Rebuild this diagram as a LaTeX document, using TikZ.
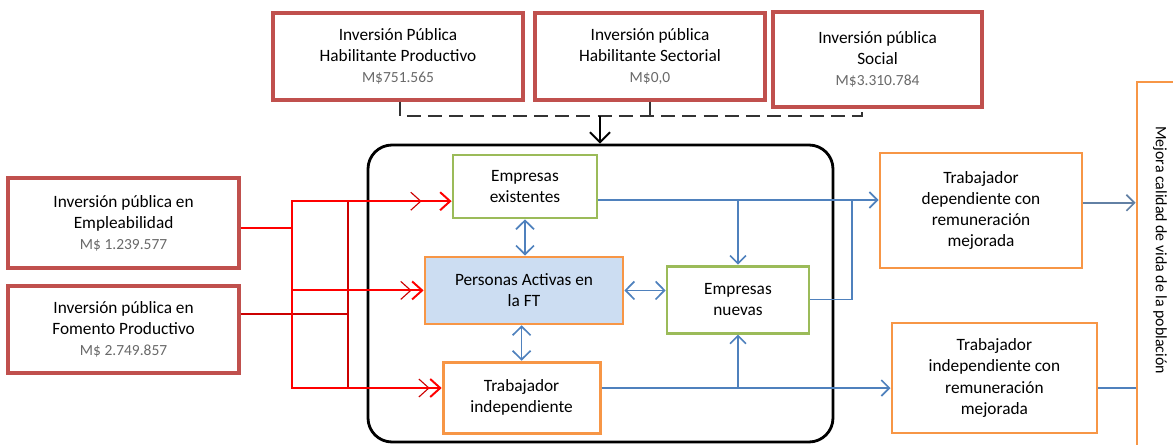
\documentclass[tikz,border=0pt]{standalone}
\usepackage{fontspec}
\setmainfont{Carlito}
\usetikzlibrary{arrows.meta}
\definecolor{boxred}{RGB}{192,80,77}
\definecolor{boxgreen}{RGB}{155,187,89}
\definecolor{boxorange}{RGB}{247,150,70}
\definecolor{lineblue}{RGB}{79,129,189}
\definecolor{fillblue}{RGB}{204,221,242}
\definecolor{amountgray}{RGB}{105,105,105}
\tikzset{
	box/.style={draw, line width=2pt, align=center, font=\fontsize{12.3}{15}\selectfont, inner sep=2pt},
	redbox/.style={box, draw=boxred, line width=2.4pt},
	greenbox/.style={box, draw=boxgreen},
	orangebox/.style={box, draw=boxorange},
	frame/.style={draw, line width=2pt, rounded corners=0.6cm},
	redthick/.style={draw=red, line width=1.4pt, -{Straight Barb[length=2.5mm,width=4.5mm]}},
	redthin/.style={draw=red!80!black, line width=0.8pt, -{Straight Barb[length=2.5mm,width=4.5mm]}},
	blueline/.style={draw=lineblue, line width=1.2pt},
	bluearrow/.style={blueline, -{Straight Barb[length=2mm,width=4mm]}},
	bluetwo/.style={blueline, {Straight Barb[length=2.2mm,width=4.5mm]}-{Straight Barb[length=2.2mm,width=4.5mm]}},
	dashline/.style={draw=black!80, line width=1.2pt, dash pattern=on 3.5mm off 1.8mm},
}
\newcommand{\amount}[1]{{\color{amountgray}\fontsize{11}{15}\selectfont #1}}

\begin{document}
\begin{tikzpicture}
		%%%%% START %%%%%
		\useasboundingbox (0,0) rectangle (29.325,-11.1);
		
		\node[frame, minimum width=11.625cm, minimum height=7.425cm] (frame) at (15.0125,-7.3375) {};
		
		% inversion boxes
		\node[redbox, minimum width=6.25cm, minimum height=2.175cm] (invHP) at (9.95,-1.41) {Inversión Pública\\Habilitante Productivo\\\amount{M\$751.565}};
		\node[redbox, minimum width=5.75cm, minimum height=2.175cm] (invHS) at (16.25,-1.41) {Inversión pública\\Habilitante Sectorial\\\amount{M\$0,0}};
		\node[redbox, minimum width=5.225cm, minimum height=2.375cm] (invSoc) at (21.94,-1.49) {Inversión pública\\Social\\\amount{M\$3.310.784}};
		\node[redbox, minimum width=5.775cm, minimum height=2.25cm] (empleab) at (3.09,-5.575) {Inversión pública en\\Empleabilidad\\\amount{M\$ 1.239.577}};
		\node[redbox, minimum width=5.775cm, minimum height=2.175cm] (fomento) at (3.09,-8.24) {Inversión pública en\\Fomento Productivo\\\amount{M\$ 2.749.857}};
		
		% inside the frame
		\node[greenbox, minimum width=3.6cm, minimum height=1.575cm] (empEx) at (13.125,-4.66) {Empresas\\existentes};
		\node[orangebox, fill=fillblue, minimum width=4.95cm, minimum height=1.675cm] (personas) at (13.1,-7.26) {Personas Activas en\\la FT};
		\node[greenbox, minimum width=3.55cm, minimum height=1.675cm] (empNu) at (18.45,-7.49) {Empresas\\nuevas};
		\node[orangebox, minimum width=3.925cm, minimum height=1.775cm] (trabInd) at (13.04,-9.94) {Trabajador\\independiente};
		
		% results
		\node[orangebox, minimum width=5.05cm, minimum height=2.875cm] (trabDepM) at (24.525,-5.26) {Trabajador\\dependiente con\\remuneración\\mejorada};
		\node[orangebox, minimum width=5.125cm, minimum height=2.75cm] (trabIndM) at (24.86,-9.45) {Trabajador\\independiente con\\remuneración\\mejorada};
		\node[orangebox, rotate=-90, font=\fontsize{11.3}{14}\selectfont, minimum width=9.3cm, minimum height=1.15cm] (mejora) at (29.0,-6.7) {Mejora calidad de vida de la población\rule{9mm}{0pt}};
		
		% dashed collector
		\coordinate (dashL) at (10.0,-2.9);
		\coordinate (dashR) at (21.55,-2.9);
		\coordinate (dashMid) at (15.0,-2.9);
		\draw[dashline] (invHP.south -| dashL) -- (dashL) -- (dashR) -- (invSoc.south -| dashR);
		\draw[dashline] (invHS.south) -- (invHS.south |- dashL);
		\draw[line width=1.4pt, -{Straight Barb[length=2.5mm,width=5mm]}] (dashMid) -- (dashMid |- frame.north);
		
		% red connectors
		\coordinate (jE) at (7.3,0);
		\coordinate (jF) at (8.7,0);
		\coordinate (outE) at ([yshift=-1.2mm]empleab.east);
		\coordinate (outF) at ([yshift=3.9mm]fomento.east);
		\coordinate (inEx) at ([yshift=-3.7mm]empEx.west);
		\coordinate (inPer) at (personas.west);
		\coordinate (inInd) at ([yshift=2.4mm]trabInd.west);
		\draw[redthin, shorten >=7.5mm] (outF) -- (outF -| jF) |- (inEx);
		\draw[redthin, shorten >=3mm] (outF) -- (outF -| jF) |- (inPer);
		\draw[redthin, shorten >=3mm] (outF) -- (outF -| jF) |- (inInd);
		\draw[redthick] (outE) -- (outE -| jE) |- (inEx);
		\draw[redthick] (outE) -- (outE -| jE) |- (inPer);
		\draw[redthick] (outE) -- (outE -| jE) |- (inInd);
		
		% blue connectors
		\coordinate (jN) at (21.3,0);
		\coordinate (outEx) at ([yshift=-3.4mm]empEx.east);
		\coordinate (outInd) at ([yshift=2.4mm]trabInd.east);
		\draw[bluearrow] (outEx) -- (outEx -| trabDepM.west);
		\draw[bluearrow] (outEx -| empNu.north) -- (empNu.north);
		\draw[blueline] (empNu.east) -| (jN |- outEx);
		\draw[bluearrow] (outInd) -- (outInd -| trabIndM.west);
		\draw[bluearrow] (outInd -| empNu.south) -- (empNu.south);
		\draw[bluetwo] (empEx.south) -- (empEx.south |- personas.north);
		\draw[bluetwo] (personas.south -| trabInd.north) -- (trabInd.north);
		\draw[bluetwo] (personas.east) -- (personas.east -| empNu.west);
		
		\draw[bluearrow, draw=lineblue!60!gray] ([yshift=1.9mm]trabDepM.east) -- ([yshift=1.9mm]trabDepM.east -| mejora.south);
		\draw[blueline] ([yshift=-2.5mm]trabIndM.east) -- ([yshift=-2.5mm]trabIndM.east -| mejora.south);
		
		%%%%% END %%%%%
\end{tikzpicture}
\end{document}
